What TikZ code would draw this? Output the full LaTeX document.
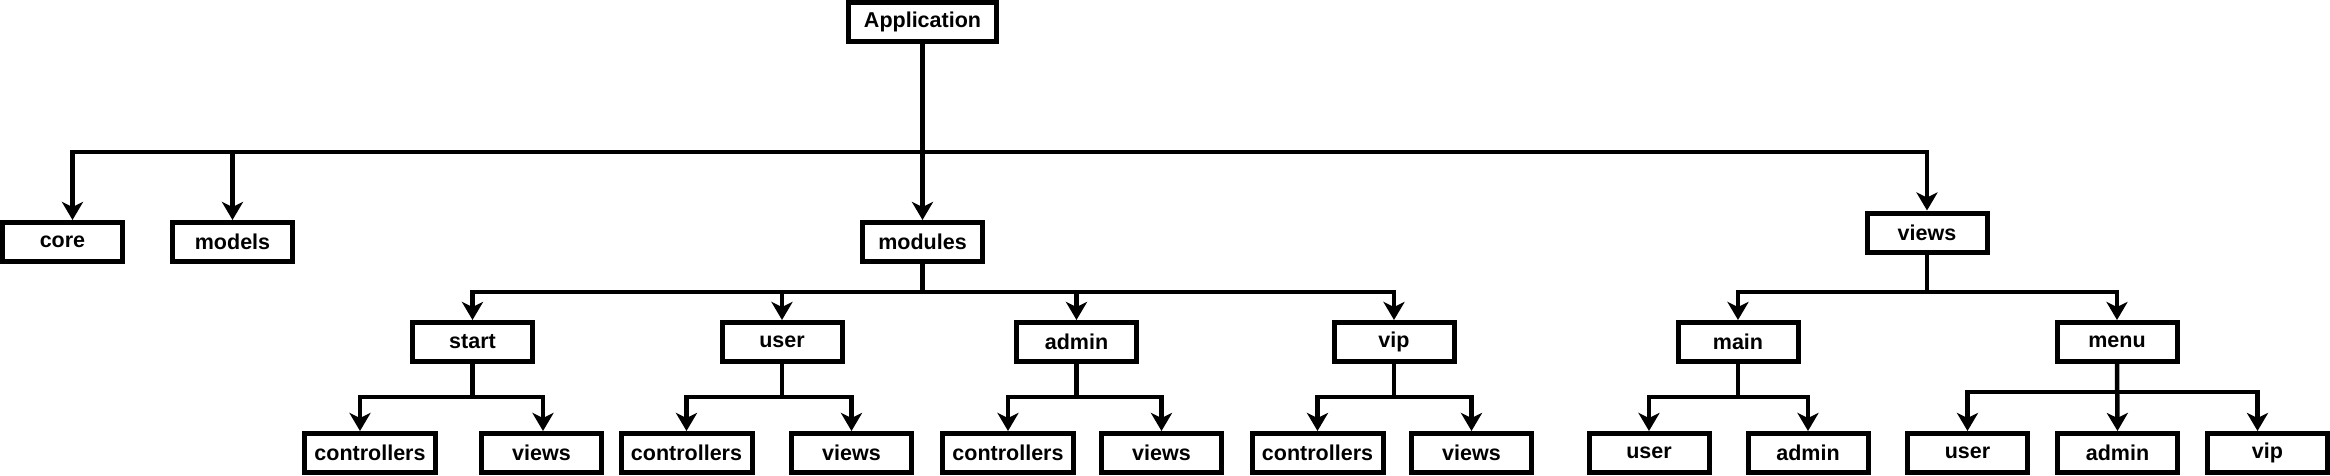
\documentclass[tikz,border=0pt]{standalone}
\usepackage{fontspec}
\setmainfont{Liberation Sans}
\usetikzlibrary{arrows.meta}
\begin{document}
\begin{tikzpicture}[x=1pt,y=-1pt,
  box/.style={draw=black, line width=5pt, fill=white, minimum width=120pt, minimum height=39pt, inner sep=0pt, font=\fontsize{21.5}{24}\selectfont\bfseries},
  wbox/.style={box, minimum width=131pt},
  conn/.style={line width=4.5pt, -{Stealth[length=18pt,width=21pt,inset=5pt]}}]
\useasboundingbox (0,0) rectangle (2330,475);
% level 0 and 1
\node[box, minimum width=148pt] (app) at (922.5,22) {Application};
\node[box] (core) at (62.5,242) {core};
\node[box] (models) at (232.5,242) {models};
\node[box] (modules) at (922.5,242) {modules};
\node[box] (views) at (1927,232.5) {views};
% level 2
\node[box] (start) at (472.5,342) {start};
\node[box] (user) at (782,342) {user};
\node[box] (admin) at (1076.5,342) {admin};
\node[box] (vip) at (1394,342) {vip};
\node[box] (main) at (1738,342) {main};
\node[box] (menu) at (2117,342) {menu};
% level 3
\node[wbox] (sc) at (370,453) {controllers};
\node[box] (sv) at (541.5,453) {views};
\node[wbox] (uc) at (686.5,453) {controllers};
\node[box] (uv) at (851.5,453) {views};
\node[wbox] (ac) at (1008,453) {controllers};
\node[box] (av) at (1161.5,453) {views};
\node[wbox] (vc) at (1317.5,453) {controllers};
\node[box] (vv) at (1471.5,453) {views};
\node[box] (mu) at (1649,453) {user};
\node[box] (ma) at (1808,453) {admin};
\node[box] (nu) at (1967.5,453) {user};
\node[box] (na) at (2117.5,453) {admin};
\node[box] (nv) at (2267.5,453) {vip};
% bus levels
\coordinate (b0) at (0,152);
\coordinate (b1) at (0,292);
\coordinate (b2) at (0,397);
\coordinate (b3) at (0,392);
% connectors
\draw[conn] (app.south) -- (app.south |- b0) -| ([xshift=10pt]core.north);
\draw[conn] (app.south) -- (app.south |- b0) -| (models.north);
\draw[conn] (app.south) -- (modules.north);
\draw[conn] (app.south) -- (app.south |- b0) -| (views.north);
\draw[conn] (modules.south) -- (modules.south |- b1) -| (start.north);
\draw[conn] (modules.south) -- (modules.south |- b1) -| (user.north);
\draw[conn] (modules.south) -- (modules.south |- b1) -| (admin.north);
\draw[conn] (modules.south) -- (modules.south |- b1) -| (vip.north);
\draw[conn] (views.south) -- (views.south |- b1) -| (main.north);
\draw[conn] (views.south) -- (views.south |- b1) -| (menu.north);
\draw[conn] (start.south) -- (start.south |- b2) -| ([xshift=-10pt]sc.north);
\draw[conn] (start.south) -- (start.south |- b2) -| ([xshift=1.5pt]sv.north);
\draw[conn] (user.south) -- (user.south |- b2) -| (uc.north);
\draw[conn] (user.south) -- (user.south |- b2) -| (uv.north);
\draw[conn] (admin.south) -- (admin.south |- b2) -| (ac.north);
\draw[conn] (admin.south) -- (admin.south |- b2) -| (av.north);
\draw[conn] (vip.south) -- (vip.south |- b2) -| (vc.north);
\draw[conn] (vip.south) -- (vip.south |- b2) -| (vv.north);
\draw[conn] (main.south) -- (main.south |- b2) -| (mu.north);
\draw[conn] (main.south) -- (main.south |- b2) -| (ma.north);
\draw[conn] (menu.south) -- (menu.south |- b3) -| (nu.north);
\draw[conn] (menu.south) -- (na.north);
\draw[conn] (menu.south) -- (menu.south |- b3) -| ([xshift=-10pt]nv.north);
\end{tikzpicture}
\end{document}
